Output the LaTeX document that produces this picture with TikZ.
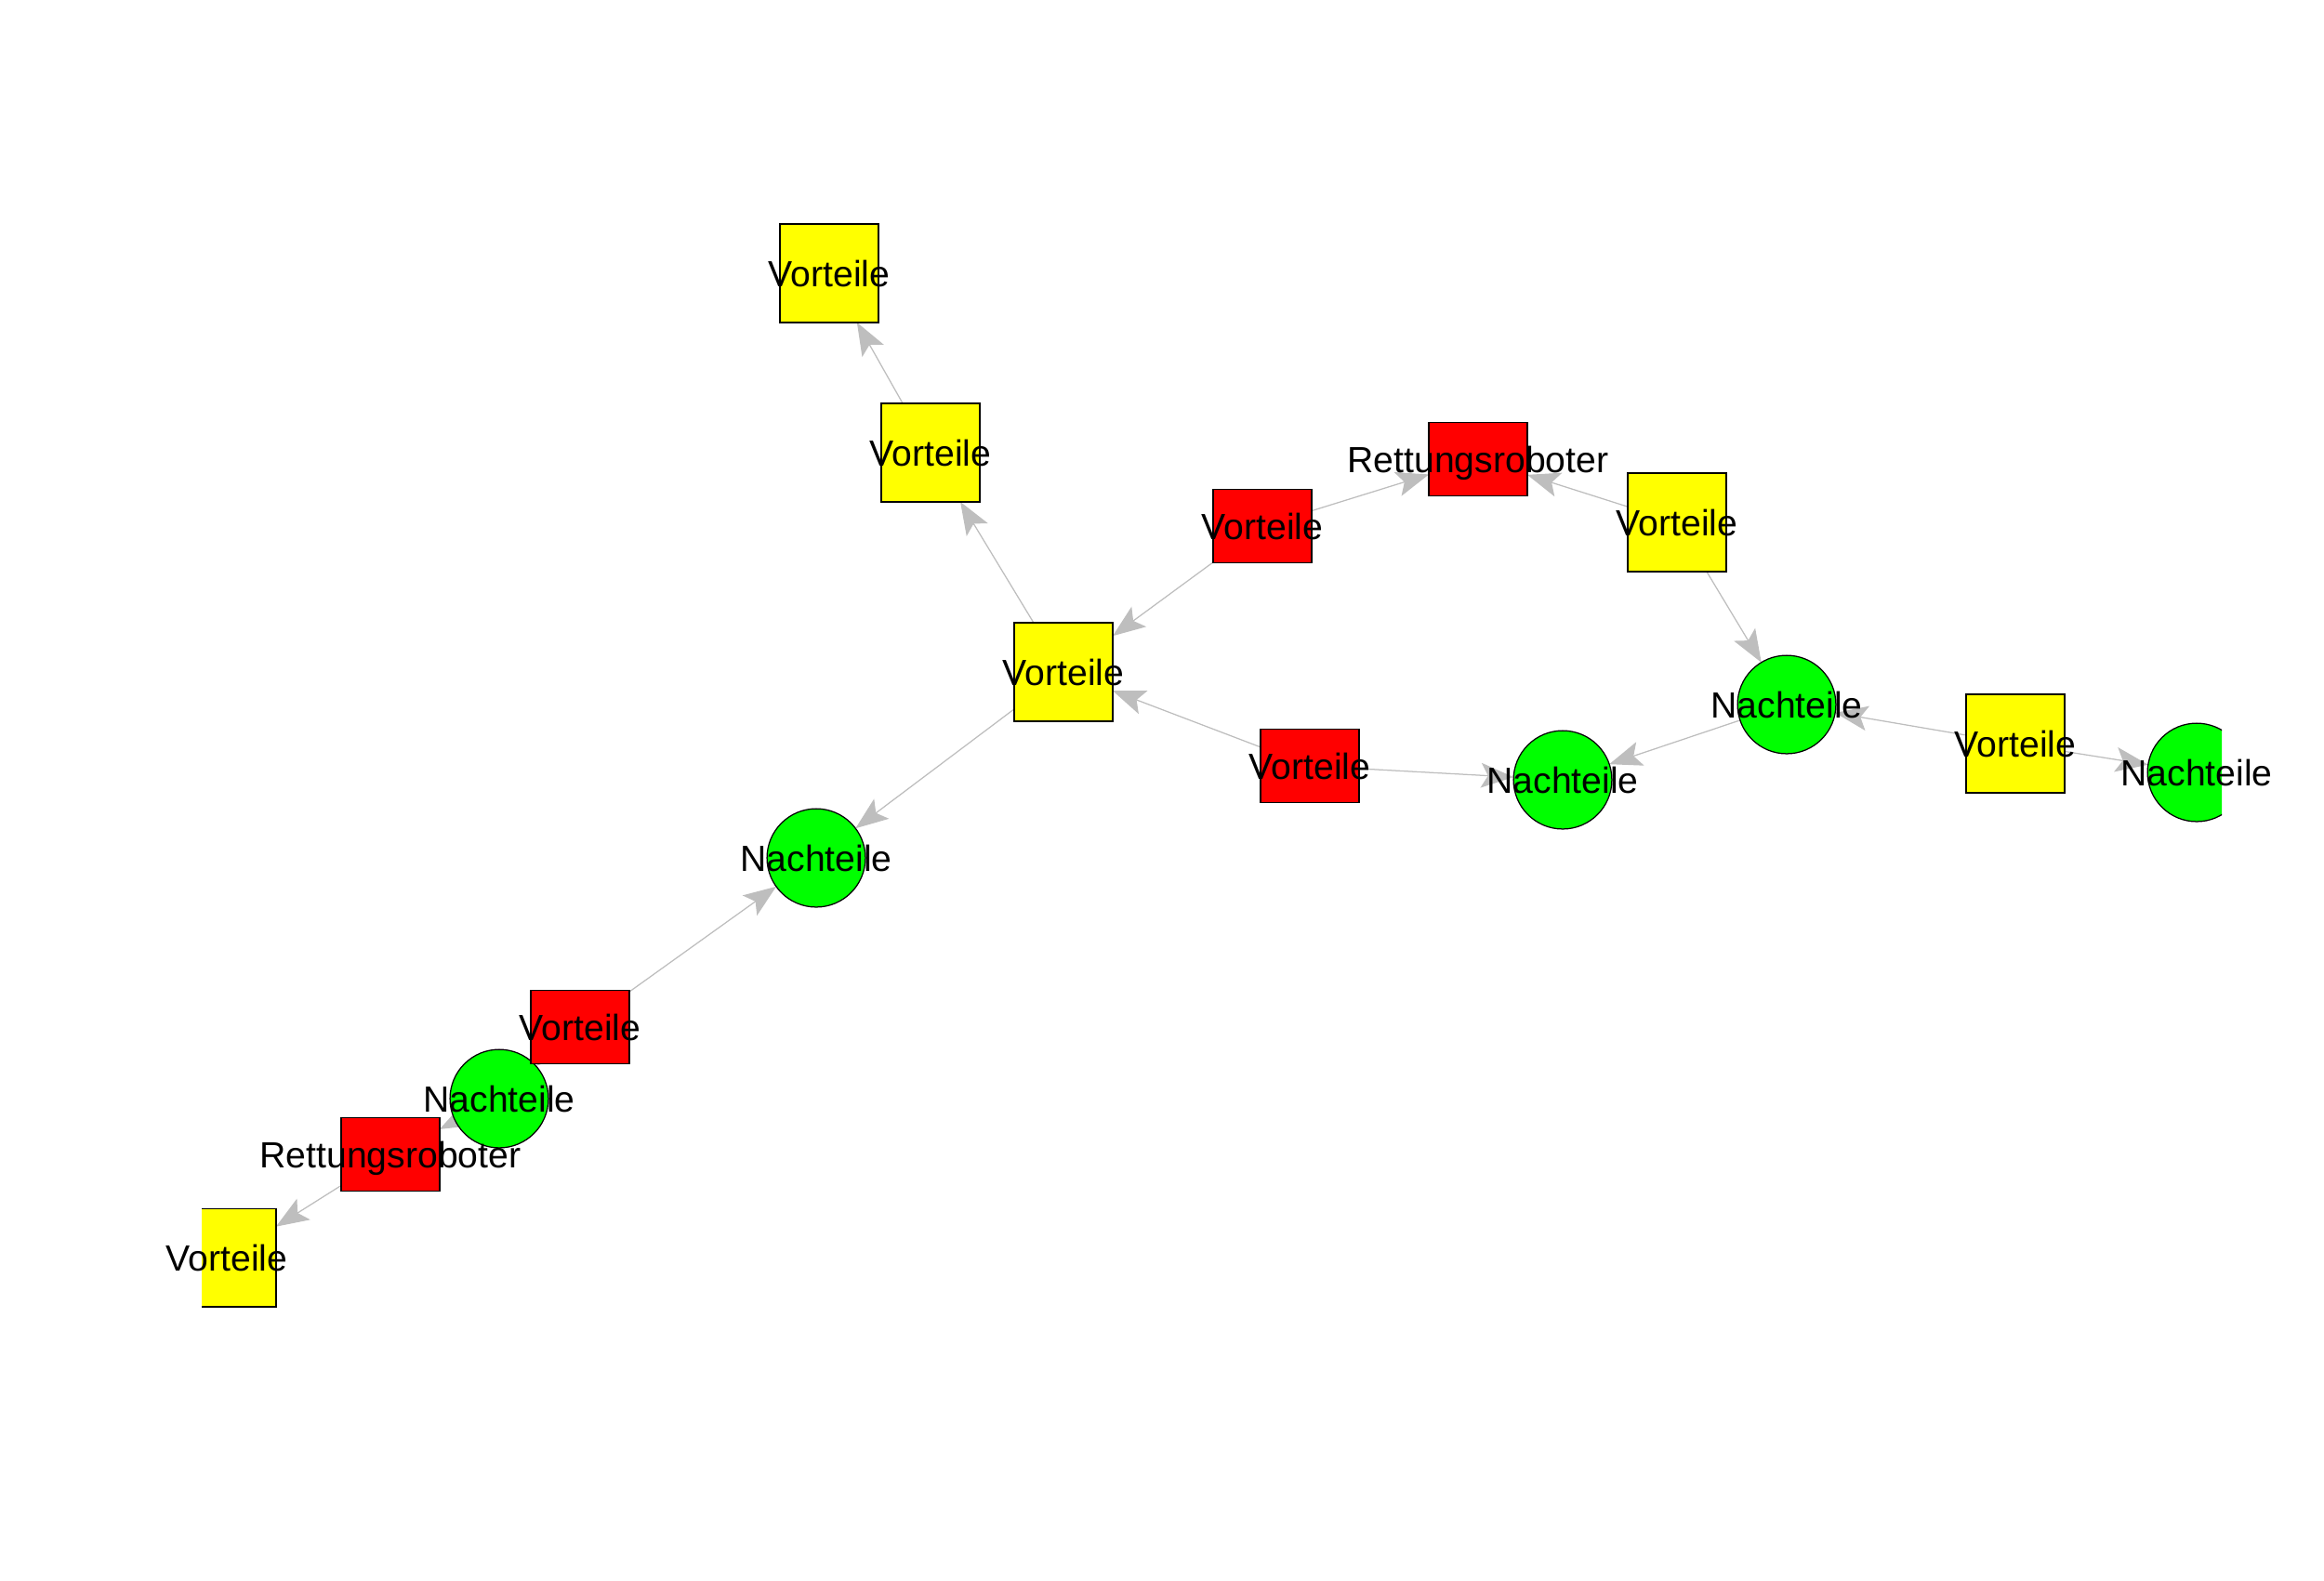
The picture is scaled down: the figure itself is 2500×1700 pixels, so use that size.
\documentclass[tikz,border=0pt]{standalone}
\usepackage{fontspec}
\setmainfont{Liberation Sans}
\usetikzlibrary{arrows.meta}
\usetikzlibrary{backgrounds}

\begin{document}
\begin{tikzpicture}[x=0.24pt,y=0.24pt,yscale=-1,xscale=1,
	vor/.style={draw=black,line width=0.3pt,fill={rgb, 255:red, 255; green, 255; blue, 0 },minimum width=25.4pt,minimum height=25.4pt,inner sep=0pt,outer sep=0pt},
	robo/.style={draw=black,line width=0.3pt,fill={rgb, 255:red, 255; green, 0; blue, 0 },minimum width=25.4pt,minimum height=19pt,inner sep=0pt,outer sep=0pt},
	nach/.style={circle,draw=black,line width=0.3pt,fill={rgb, 255:red, 0; green, 255; blue, 0 },minimum size=25.4pt,inner sep=0pt,outer sep=0pt},
	kante/.style={draw={rgb, 255:red, 190; green, 190; blue, 190 },line width=0.3pt,-{Stealth[length=8.4pt,width=6.4pt,inset=1.8pt]},fill={rgb, 255:red, 190; green, 190; blue, 190 }},
	lbl/.style={font=\fontsize{9.4}{11}\selectfont,text height=6.73pt,text depth=0pt,inner sep=0pt}]
	\useasboundingbox (0,0) rectangle (2500,1700);
	
	%Shapes (clipped to the plot region)
	\begin{scope}
	\clip (217,0) rectangle (2390,1700);
	\node [vor] (vor1) at (892,294) {};
	\node [vor] (vor2) at (1001,487) {};
	\node [vor] (vor3) at (1144,723) {};
	\node [robo] (robvor1) at (1358,566) {};
	\node [robo] (rob1) at (1590,494) {};
	\node [vor] (vor4) at (1804,562) {};
	\node [nach] (nach1) at (1922,758) {};
	\node [vor] (vor5) at (2168,800) {};
	\node [nach] (nach2) at (2363,831) {};
	\node [nach] (nach3) at (1681,839) {};
	\node [robo] (robvor2) at (1409,824) {};
	\node [nach] (nach4) at (878,923) {};
	\node [nach] (nach5) at (537,1182) {};
	\node [robo] (robvor3) at (624,1105) {};
	\node [robo] (rob2) at (420,1242) {};
	\node [vor] (vor6) at (244,1353) {};
	\end{scope}
	
	%Edges
	\begin{scope}[on background layer]
	\draw [kante] (vor2) -- (vor1);
	\draw [kante] (vor3) -- (vor2);
	\draw [kante] (robvor1) -- (vor3);
	\draw [kante] (robvor1) -- (rob1);
	\draw [kante] (vor4) -- (rob1);
	\draw [kante] (vor4) -- (nach1);
	\draw [kante] (vor5) -- (nach1);
	\draw [kante] (vor5) -- (nach2);
	\draw [kante] (nach1) -- (nach3);
	\draw [kante] (robvor2) -- (nach3);
	\draw [kante] (robvor2) -- (vor3);
	\draw [kante] (vor3) -- (nach4);
	\draw [kante] (robvor3) -- (nach4);
	\draw [kante] (robvor3) -- (nach5);
	\draw [kante] (nach5) -- (rob2);
	\draw [kante] (rob2) -- (vor6);
	\end{scope}
	
	% Text Nodes
	\node [lbl] (t1) at (vor1) {Vorteile};
	\node [lbl] (t2) at (vor2) {Vorteile};
	\node [lbl] (t3) at (vor3) {Vorteile};
	\node [lbl] (t4) at (robvor1) {Vorteile};
	\node [lbl] (t5) at (rob1) {Rettungsroboter};
	\node [lbl] (t6) at (vor4) {Vorteile};
	\node [lbl] (t7) at (nach1) {Nachteile};
	\node [lbl] (t8) at (vor5) {Vorteile};
	\node [lbl] (t9) at (nach2) {Nachteile};
	\node [lbl] (t10) at (nach3) {Nachteile};
	\node [lbl] (t11) at (robvor2) {Vorteile};
	\node [lbl] (t12) at (nach4) {Nachteile};
	\node [lbl] (t13) at (nach5) {Nachteile};
	\node [lbl] (t14) at (robvor3) {Vorteile};
	\node [lbl] (t15) at (rob2) {Rettungsroboter};
	\node [lbl] (t16) at (vor6) {Vorteile};
	
\end{tikzpicture}
\end{document}
